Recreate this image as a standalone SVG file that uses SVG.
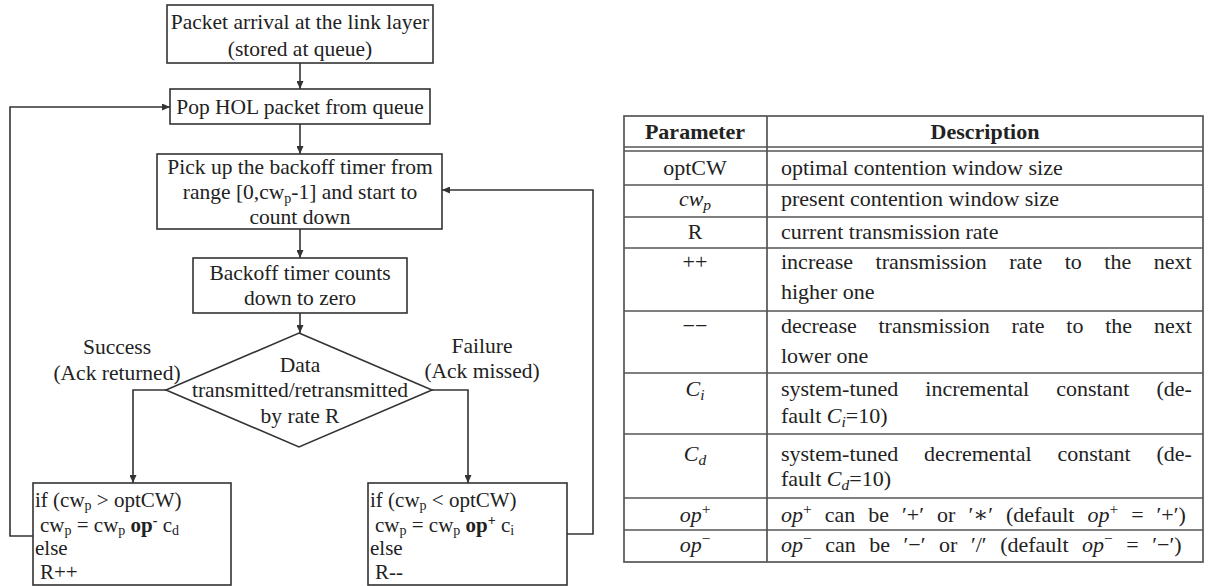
<svg xmlns="http://www.w3.org/2000/svg" width="1208" height="586" viewBox="0 0 1208 586">
<defs>
<marker id="ah" markerWidth="8" markerHeight="7" refX="8" refY="3.5" orient="auto" markerUnits="userSpaceOnUse">
<path d="M0,0 L8,3.5 L0,7 z" fill="#333"/>
</marker>
<style>
.box{fill:#fff;stroke:#333;stroke-width:1.6}
.ft{font-family:"Liberation Serif","Times New Roman",serif;font-size:21.5px;fill:#222}
.fs{font-family:"Liberation Serif","Times New Roman",serif;font-size:21px;fill:#222}
.c{text-anchor:middle}
.sub{font-size:14px}
.con{fill:none;stroke:#333;stroke-width:1.6;marker-end:url(#ah)}
.tl{stroke:#555;stroke-width:1.7;fill:none}
.tt{font-family:"Liberation Serif","Times New Roman","DejaVu Serif",serif;font-size:22px;fill:#222}
.th{font-family:"Liberation Serif","Times New Roman",serif;font-size:22px;font-weight:bold;fill:#222}
.it{font-style:italic}
.b{font-weight:bold}
.ts{font-size:15.5px}
</style>
</defs>
<rect width="1208" height="586" fill="#fff"/>

<g id="connectors">
<path class="con" d="M300,63 V89"/>
<path class="con" d="M300,124 V154"/>
<path class="con" d="M300,229 V258"/>
<path class="con" d="M300,313 V333"/>
<path class="con" d="M166,390 H133 V483"/>
<path class="con" d="M432,390 H468 V483"/>
<path class="con" d="M33,536 H10 V107 H170"/>
<path class="con" d="M567,534 H593 V190 H442"/>
</g>

<g id="n1">
<rect class="box" x="167" y="5" width="266" height="58"/>
<text class="ft c" x="300" y="29">Packet arrival at the link layer</text>
<text class="ft c" x="300" y="56">(stored at queue)</text>
</g>
<g id="n2">
<rect class="box" x="170" y="89" width="260" height="35"/>
<text class="ft c" x="300" y="114">Pop HOL packet from queue</text>
</g>
<g id="n3">
<rect class="box" x="157" y="154" width="285" height="75"/>
<text class="ft c" x="300" y="174">Pick up the backoff timer from</text>
<text class="ft c" x="300" y="199">range [0,cw<tspan class="sub" dy="4">p</tspan><tspan dy="-4">-1] and start to</tspan></text>
<text class="ft c" x="300" y="224">count down</text>
</g>
<g id="n4">
<rect class="box" x="193" y="258" width="214" height="55"/>
<text class="ft c" x="300" y="280">Backoff timer counts</text>
<text class="ft c" x="300" y="305">down to zero</text>
</g>
<g id="n5">
<polygon class="box" points="299,333 432,390 299,447 166,390"/>
<text class="ft c" x="300" y="372">Data</text>
<text class="ft c" x="300" y="397">transmitted/retransmitted</text>
<text class="ft c" x="300" y="423">by rate R</text>
</g>
<g id="lbl-success">
<text class="ft c" x="117" y="354">Success</text>
<text class="ft c" x="117" y="380">(Ack returned)</text>
</g>
<g id="lbl-failure">
<text class="ft c" x="482" y="353">Failure</text>
<text class="ft c" x="482" y="378">(Ack missed)</text>
</g>
<g id="n6">
<rect class="box" x="33" y="483" width="198" height="102"/>
<text class="fs" x="35" y="507">if (cw<tspan class="sub" dy="3">p</tspan><tspan dy="-3"> &gt; optCW)</tspan></text>
<text class="fs" x="40" y="532">cw<tspan class="sub" dy="3">p</tspan><tspan dy="-3"> = cw</tspan><tspan class="sub" dy="3">p</tspan><tspan class="b" dy="-3"> op</tspan><tspan class="sub b" dy="-7">-</tspan><tspan dy="7"> c</tspan><tspan class="sub" dy="3">d</tspan></text>
<text class="fs" x="35" y="555">else</text>
<text class="fs" x="40" y="579">R++</text>
</g>
<g id="n7">
<rect class="box" x="368" y="483" width="199" height="102"/>
<text class="fs" x="370" y="507">if (cw<tspan class="sub" dy="3">p</tspan><tspan dy="-3"> &lt; optCW)</tspan></text>
<text class="fs" x="375" y="532">cw<tspan class="sub" dy="3">p</tspan><tspan dy="-3"> = cw</tspan><tspan class="sub" dy="3">p</tspan><tspan class="b" dy="-3"> op</tspan><tspan class="sub b" dy="-7">+</tspan><tspan dy="7"> c</tspan><tspan class="sub" dy="3">i</tspan></text>
<text class="fs" x="370" y="555">else</text>
<text class="fs" x="375" y="579">R--</text>
</g>

<g id="table">
<rect class="tl" x="624" y="116" width="579" height="446"/>
<path class="tl" d="M767,116 V562 M624,147 H1203 M624,151 H1203 M624,185 H1203 M624,217 H1203 M624,248 H1203 M624,311 H1203 M624,373 H1203 M624,434 H1203 M624,498 H1203 M624,530 H1203"/>
<text class="th c" x="695" y="139">Parameter</text>
<text class="th c" x="985" y="139">Description</text>

<text class="tt c" x="695" y="175">optCW</text>
<text class="tt" x="781" y="175">optimal contention window size</text>

<text class="tt c" x="695" y="206"><tspan class="it">cw</tspan><tspan class="it ts" dy="4">p</tspan></text>
<text class="tt" x="781" y="206">present contention window size</text>

<text class="tt c" x="695" y="239">R</text>
<text class="tt" x="781" y="239">current transmission rate</text>

<text class="tt c" x="695" y="269">++</text>
<text class="tt" x="781" y="269" word-spacing="17">increase transmission rate to the next</text>
<text class="tt" x="781" y="299">higher one</text>

<text class="tt c" x="695" y="333">−−</text>
<text class="tt" x="781" y="333" word-spacing="16.3">decrease transmission rate to the next</text>
<text class="tt" x="781" y="363">lower one</text>

<text class="tt c" x="695" y="396"><tspan class="it">C</tspan><tspan class="it ts" dy="4">i</tspan></text>
<text class="tt" x="781" y="396" word-spacing="21.5">system-tuned incremental constant (de-</text>
<text class="tt" x="781" y="423">fault <tspan class="it">C</tspan><tspan class="it ts" dy="4">i</tspan><tspan dy="-4">=10)</tspan></text>

<text class="tt c" x="695" y="461"><tspan class="it">C</tspan><tspan class="it ts" dy="4">d</tspan></text>
<text class="tt" x="781" y="461" word-spacing="20.3">system-tuned decremental constant (de-</text>
<text class="tt" x="781" y="486">fault <tspan class="it">C</tspan><tspan class="it ts" dy="4">d</tspan><tspan dy="-4">=10)</tspan></text>

<text class="tt c" x="695" y="522"><tspan class="it">op</tspan><tspan class="ts" dy="-8">+</tspan></text>
<text class="tt" x="781" y="522" word-spacing="7.5"><tspan class="it">op</tspan><tspan class="ts" dy="-8">+</tspan><tspan dy="8"> can be ′+′ or ′∗′ (default </tspan><tspan class="it">op</tspan><tspan class="ts" dy="-8">+</tspan><tspan dy="8"> = ′+′)</tspan></text>

<text class="tt c" x="695" y="552"><tspan class="it">op</tspan><tspan class="ts" dy="-8">−</tspan></text>
<text class="tt" x="781" y="552" word-spacing="8"><tspan class="it">op</tspan><tspan class="ts" dy="-8">−</tspan><tspan dy="8"> can be ′−′ or ′/′ (default </tspan><tspan class="it">op</tspan><tspan class="ts" dy="-8">−</tspan><tspan dy="8"> = ′−′)</tspan></text>
</g>
</svg>
